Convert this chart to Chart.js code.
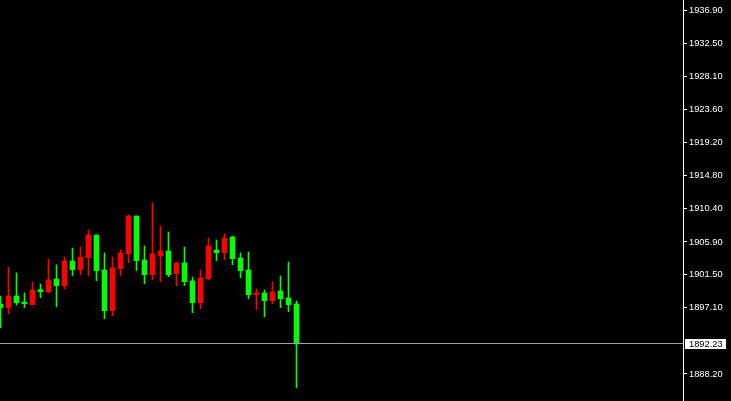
<!DOCTYPE html>
<html>
<head>
<meta charset="utf-8">
<script src="https://cdn.jsdelivr.net/npm/chart.js@4/dist/chart.umd.min.js"></script>
<style>
  html, body { margin: 0; padding: 0; background: #000; overflow: hidden; }
  canvas { display: block; }
</style>
</head>
<body>
<canvas id="c" width="731" height="401"></canvas>
<script>
// Candle index (time slots)
const barIndex = [0,1,2,3,4,5,6,7,8,9,10,11,12,13,14,15,16,17,18,19,20,21,22,23,24,25,26,27,28,29,30,31,32,33,34,35,36,37];
const opens  = [1897.58,1897.09,1898.66,1897.85,1897.49,1899.50,1899.23,1900.93,1900.04,1903.35,1902.18,1903.79,1906.83,1902.14,1896.68,1902.32,1904.29,1909.38,1903.48,1901.51,1904.02,1904.69,1901.64,1903.08,1900.67,1897.76,1900.97,1904.82,1904.46,1906.56,1903.75,1902.14,1898.83,1899.06,1898.03,1899.33,1898.39,1897.58];
const highs  = [1898.66,1902.54,1901.74,1899.06,1900.53,1900.26,1903.61,1902.81,1903.88,1905.09,1905.22,1907.50,1906.83,1904.42,1903.88,1904.82,1909.55,1909.38,1905.36,1911.12,1908.04,1907.23,1903.21,1905.22,1901.20,1902.14,1906.43,1906.16,1906.97,1906.70,1904.42,1904.55,1899.59,1899.46,1900.53,1901.34,1903.21,1897.98];
const lows   = [1894.41,1896.28,1897.45,1897.09,1897.49,1898.43,1899.06,1897.22,1899.59,1901.38,1901.51,1901.38,1900.71,1895.61,1896.01,1901.38,1903.12,1902.05,1900.30,1900.84,1900.57,1901.24,1900.04,1900.04,1896.42,1896.95,1900.84,1903.39,1903.52,1902.85,1901.11,1898.29,1896.82,1895.88,1897.62,1897.09,1896.55,1886.36];
const closes = [1897.09,1898.66,1897.76,1897.62,1899.46,1899.23,1900.80,1900.04,1903.35,1902.18,1903.88,1906.83,1902.05,1896.68,1902.41,1904.42,1909.38,1903.39,1901.51,1904.29,1904.69,1901.51,1903.08,1900.57,1897.76,1901.07,1905.36,1904.46,1906.43,1903.66,1902.05,1898.83,1899.06,1898.03,1899.19,1898.29,1897.49,1892.23];
const priceTicks = [1936.90,1932.50,1928.10,1923.60,1919.20,1914.80,1910.40,1905.90,1901.50,1897.10,1888.20];
const currentPrice = 1892.23;

const upColor = '#ff0000';
const downColor = '#00ff00';
const colors = barIndex.map((_, i) => closes[i] >= opens[i] ? upColor : downColor);

const bodies = barIndex.map((x, i) => ({ x: x, y: [Math.min(opens[i], closes[i]), Math.max(opens[i], closes[i])] }));
const wicks = barIndex.map((x, i) => ({ x: x, y: [lows[i], highs[i]] }));

const priceLine = {
  id: 'priceLine',
  afterDraw(chart) {
    const ctx = chart.ctx;
    const ys = chart.scales.y;
    const area = chart.chartArea;
    const y = Math.round(ys.getPixelForValue(currentPrice)) - 0.5;
    ctx.save();
    ctx.strokeStyle = '#a0a0a8';
    ctx.lineWidth = 1;
    ctx.beginPath();
    ctx.moveTo(area.left, y);
    ctx.lineTo(area.right, y);
    ctx.stroke();
    ctx.fillStyle = '#ffffff';
    ctx.fillRect(ys.left + 2, y - 4.5, 41, 10);
    ctx.fillStyle = '#000000';
    ctx.font = '9.3px "Liberation Sans", Arial, sans-serif';
    ctx.textBaseline = 'middle';
    ctx.textAlign = 'left';
    ctx.fillText(currentPrice.toFixed(2), ys.left + 6, y + 0.5);
    ctx.restore();
  }
};

new Chart(document.getElementById('c'), {
  type: 'bar',
  data: {
    datasets: [
      { data: bodies, backgroundColor: colors, barThickness: 5, grouped: false, borderWidth: 0 },
      { data: wicks, backgroundColor: colors, barThickness: 1, grouped: false, borderWidth: 0 }
    ]
  },
  options: {
    responsive: false,
    animation: false,
    events: [],
    layout: { padding: 0 },
    plugins: { legend: { display: false }, tooltip: { enabled: false } },
    scales: {
      x: { type: 'linear', display: false, min: -0.0625, max: 85.3125, offset: false },
      y: {
        position: 'right',
        min: 1884.58,
        max: 1938.33,
        afterFit(scale) {
          scale.width = 48;
          scale.paddingTop = 0;
          scale.paddingBottom = 0;
        },
        afterBuildTicks(scale) { scale.ticks = priceTicks.map(v => ({ value: v })); },
        grid: { drawOnChartArea: false, color: '#ffffff', tickLength: 4, lineWidth: 1 },
        border: { display: true, color: '#ffffff', width: 1 },
        ticks: {
          color: '#ffffff',
          padding: 2,
          autoSkip: false,
          font: { family: '"Liberation Sans", Arial, sans-serif', size: 9.3 },
          callback: v => Number(v).toFixed(2)
        }
      }
    }
  },
  plugins: [priceLine]
});
</script>
</body>
</html>
